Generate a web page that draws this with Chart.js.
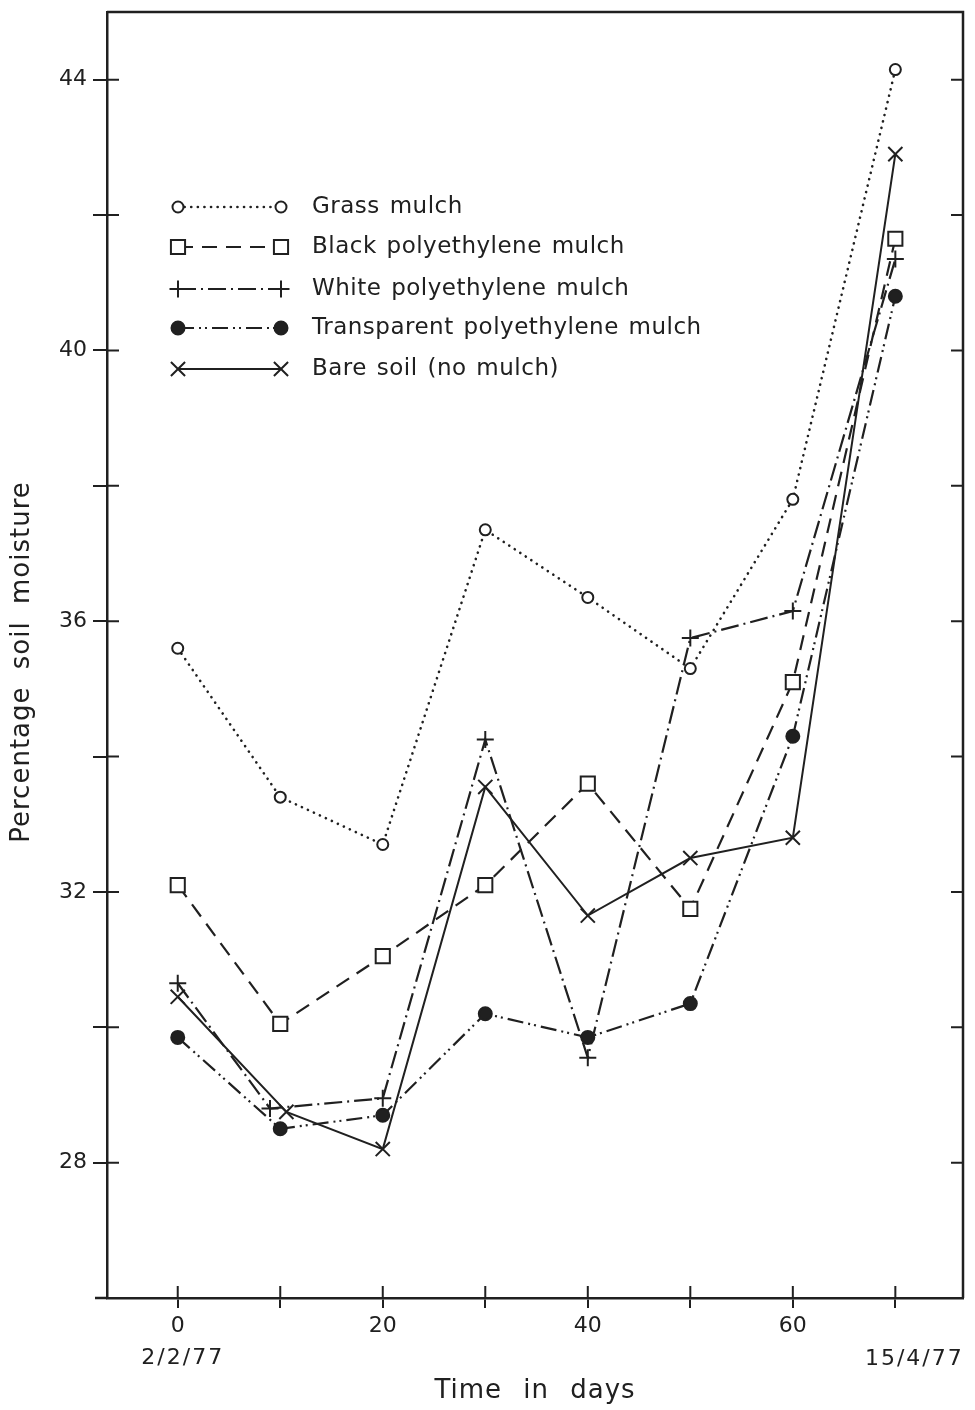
<!DOCTYPE html>
<html>
<head>
<meta charset="utf-8">
<script src="https://cdn.jsdelivr.net/npm/chart.js@4.4.1/dist/chart.umd.min.js"></script>
<style>
  html, body { margin: 0; padding: 0; background: #ffffff; }
  #wrap { width: 975px; height: 1410px; position: relative; }
</style>
</head>
<body>
<div id="wrap"><canvas id="moistureChart"></canvas></div>
<script>
// data (days after 2/2/77, % soil moisture)
const days = [0, 10, 20, 30, 40, 50, 60, 70];
const whiteDays = [0, 9, 20, 30, 40, 50, 60, 70];
const bareDays = [0, 10.6, 20, 30, 40, 50, 60, 70];

const grassMulch = [35.6, 33.4, 32.7, 37.35, 36.35, 35.3, 37.8, 44.15];
const blackPoly = [32.1, 30.05, 31.05, 32.1, 33.6, 31.75, 35.1, 41.65];
const whitePoly = [30.65, 28.8, 28.95, 34.25, 29.55, 35.75, 36.15, 41.35];
const transparentPoly = [29.85, 28.5, 28.7, 30.2, 29.85, 30.35, 34.3, 40.8];
const bareSoil = [30.45, 28.75, 28.2, 33.55, 31.65, 32.5, 32.8, 42.9];

const yTickMarks = [28, 30, 32, 34, 36, 38, 40, 42, 44];
const yTickLabels = [28, 32, 36, 40, 44];
const xTickMarks = [0, 10, 20, 30, 40, 50, 60, 70];
const xTickLabels = [0, 20, 40, 60];
const startDate = '2/2/77';
const endDate = '15/4/77';

const ink = '#202020';
const FONT = '"DejaVu Sans", sans-serif';

function points(xs, ys) {
    return xs.map((d, i) => ({ x: d, y: ys[i] }));
}

function lineSet(label, xs, ys, dash, style, radius, fill, width, cap) {
    return {
        label: label,
        data: points(xs, ys),
        borderColor: ink,
        borderWidth: width,
        borderDash: dash,
        borderCapStyle: cap,
        tension: 0,
        pointStyle: style,
        pointRadius: radius,
        pointHoverRadius: radius,
        pointBorderWidth: 2,
        pointBorderColor: ink,
        pointBackgroundColor: fill,
        fill: false
    };
}

const datasets = [
    lineSet('Grass mulch', days, grassMulch, [0.1, 6.5], 'circle', 5.5, '#ffffff', 2.6, 'round'),
    lineSet('Black polyethylene mulch', days, blackPoly, [15, 9], 'rect', 10, '#ffffff', 2.2, 'butt'),
    lineSet('White polyethylene mulch', whiteDays, whitePoly, [18, 5, 2, 5], 'cross', 8.5, '#ffffff', 2.2, 'butt'),
    lineSet('Transparent polyethylene mulch', days, transparentPoly, [16, 5, 2, 4, 2, 5], 'circle', 6.5, ink, 2.2, 'butt'),
    lineSet('Bare soil (no mulch)', bareDays, bareSoil, [], 'crossRot', 10, '#ffffff', 2, 'butt')
];

// text with spacing, used for titles and legend
function spacedText(ctx, text, x, y, size, ls, ws, align) {
    ctx.font = size + 'px ' + FONT;
    ctx.letterSpacing = ls + 'px';
    ctx.wordSpacing = ws + 'px';
    ctx.textAlign = align;
    ctx.textBaseline = 'middle';
    ctx.fillStyle = ink;
    ctx.fillText(text, x, y);
}

// frame, inner tick marks, legend and titles
const decorations = {
    id: 'decorations',
    afterDraw(chart) {
        const ctx = chart.ctx;
        const a = chart.chartArea;
        const xs = chart.scales.x;
        const ys = chart.scales.y;
        ctx.save();
        ctx.strokeStyle = ink;
        ctx.setLineDash([]);

        // top and right border, small overhang of the base line
        ctx.lineWidth = 2.5;
        ctx.beginPath();
        ctx.moveTo(a.left, a.top);
        ctx.lineTo(a.right, a.top);
        ctx.lineTo(a.right, a.bottom);
        ctx.moveTo(a.left - 12, a.bottom);
        ctx.lineTo(a.left, a.bottom);
        ctx.stroke();

        // inward tick marks
        ctx.lineWidth = 2;
        ctx.beginPath();
        yTickMarks.forEach(v => {
            const py = ys.getPixelForValue(v);
            ctx.moveTo(a.left, py);
            ctx.lineTo(a.left + 12, py);
            ctx.moveTo(a.right - 12, py);
            ctx.lineTo(a.right, py);
        });
        xTickMarks.forEach(v => {
            const px = xs.getPixelForValue(v);
            ctx.moveTo(px, a.bottom);
            ctx.lineTo(px, a.bottom - 12);
        });
        ctx.stroke();

        // legend
        const x1 = a.left + 71;
        const x2 = a.left + 174;
        const rows = [207, 247, 289, 328, 369];
        chart.data.datasets.forEach((ds, i) => {
            const py = rows[i];
            ctx.lineWidth = ds.borderWidth;
            ctx.lineCap = ds.borderCapStyle;
            ctx.setLineDash(ds.borderDash);
            ctx.beginPath();
            ctx.moveTo(x1, py);
            ctx.lineTo(x2, py);
            ctx.stroke();
            ctx.setLineDash([]);
            ctx.lineCap = 'butt';
            ctx.fillStyle = ds.pointBackgroundColor;
            ctx.lineWidth = ds.pointBorderWidth;
            const opts = { pointStyle: ds.pointStyle, radius: ds.pointRadius, borderWidth: ds.pointBorderWidth, rotation: 0 };
            Chart.helpers.drawPoint(ctx, opts, x1, py);
            Chart.helpers.drawPoint(ctx, opts, x2, py);
            spacedText(ctx, ds.label, a.left + 205, py, 23, 0.5, 2, 'left');
        });

        // date labels under the day axis
        spacedText(ctx, startDate, xs.getPixelForValue(0) + 5, 1358, 22, 2, 0, 'center');
        spacedText(ctx, endDate, xs.getPixelForValue(70) + 19, 1359, 22, 2, 0, 'center');

        // axis titles
        spacedText(ctx, 'Time in days', (a.left + a.right) / 2, 1391, 26, 1, 12, 'center');
        ctx.save();
        ctx.translate(22, 662);
        ctx.rotate(-Math.PI / 2);
        spacedText(ctx, 'Percentage soil moisture', 0, 0, 26, 1, 8, 'center');
        ctx.restore();

        ctx.restore();
    }
};

document.addEventListener('DOMContentLoaded', function() {
    Chart.defaults.font.family = FONT;
    Chart.defaults.color = ink;

    new Chart(document.getElementById('moistureChart'), {
        type: 'line',
        data: { datasets: datasets },
        options: {
            responsive: true,
            maintainAspectRatio: false,
            animation: false,
            layout: { padding: { left: 0, top: 9, right: 7, bottom: 0 } },
            plugins: {
                legend: { display: false },
                tooltip: { enabled: false }
            },
            scales: {
                x: {
                    type: 'linear',
                    min: -6.9,
                    max: 76.6,
                    afterBuildTicks: s => { s.ticks = xTickMarks.map(v => ({ value: v })); },
                    afterFit: s => {
                        s.height = 112;
                        s.paddingLeft = 0;
                        s.paddingRight = 0;
                    },
                    grid: { drawOnChartArea: false, drawTicks: true, tickLength: 10, color: ink, lineWidth: 2 },
                    border: { display: true, color: ink, width: 2.5 },
                    ticks: {
                        autoSkip: false,
                        maxRotation: 0,
                        padding: 5,
                        font: { size: 22 },
                        color: ink,
                        callback: v => xTickLabels.includes(v) ? String(v) : ''
                    }
                },
                y: {
                    min: 26,
                    max: 45,
                    afterBuildTicks: s => { s.ticks = yTickMarks.map(v => ({ value: v })); },
                    afterFit: s => {
                        s.width = 107;
                        s.paddingTop = 0;
                        s.paddingBottom = 0;
                    },
                    grid: { drawOnChartArea: false, drawTicks: true, tickLength: 14, color: ink, lineWidth: 2 },
                    border: { display: true, color: ink, width: 2.5 },
                    ticks: {
                        autoSkip: false,
                        padding: 6,
                        font: { size: 22 },
                        color: ink,
                        callback: v => yTickLabels.includes(v) ? String(v) : ''
                    }
                }
            }
        },
        plugins: [decorations]
    });
});
</script>
</body>
</html>
